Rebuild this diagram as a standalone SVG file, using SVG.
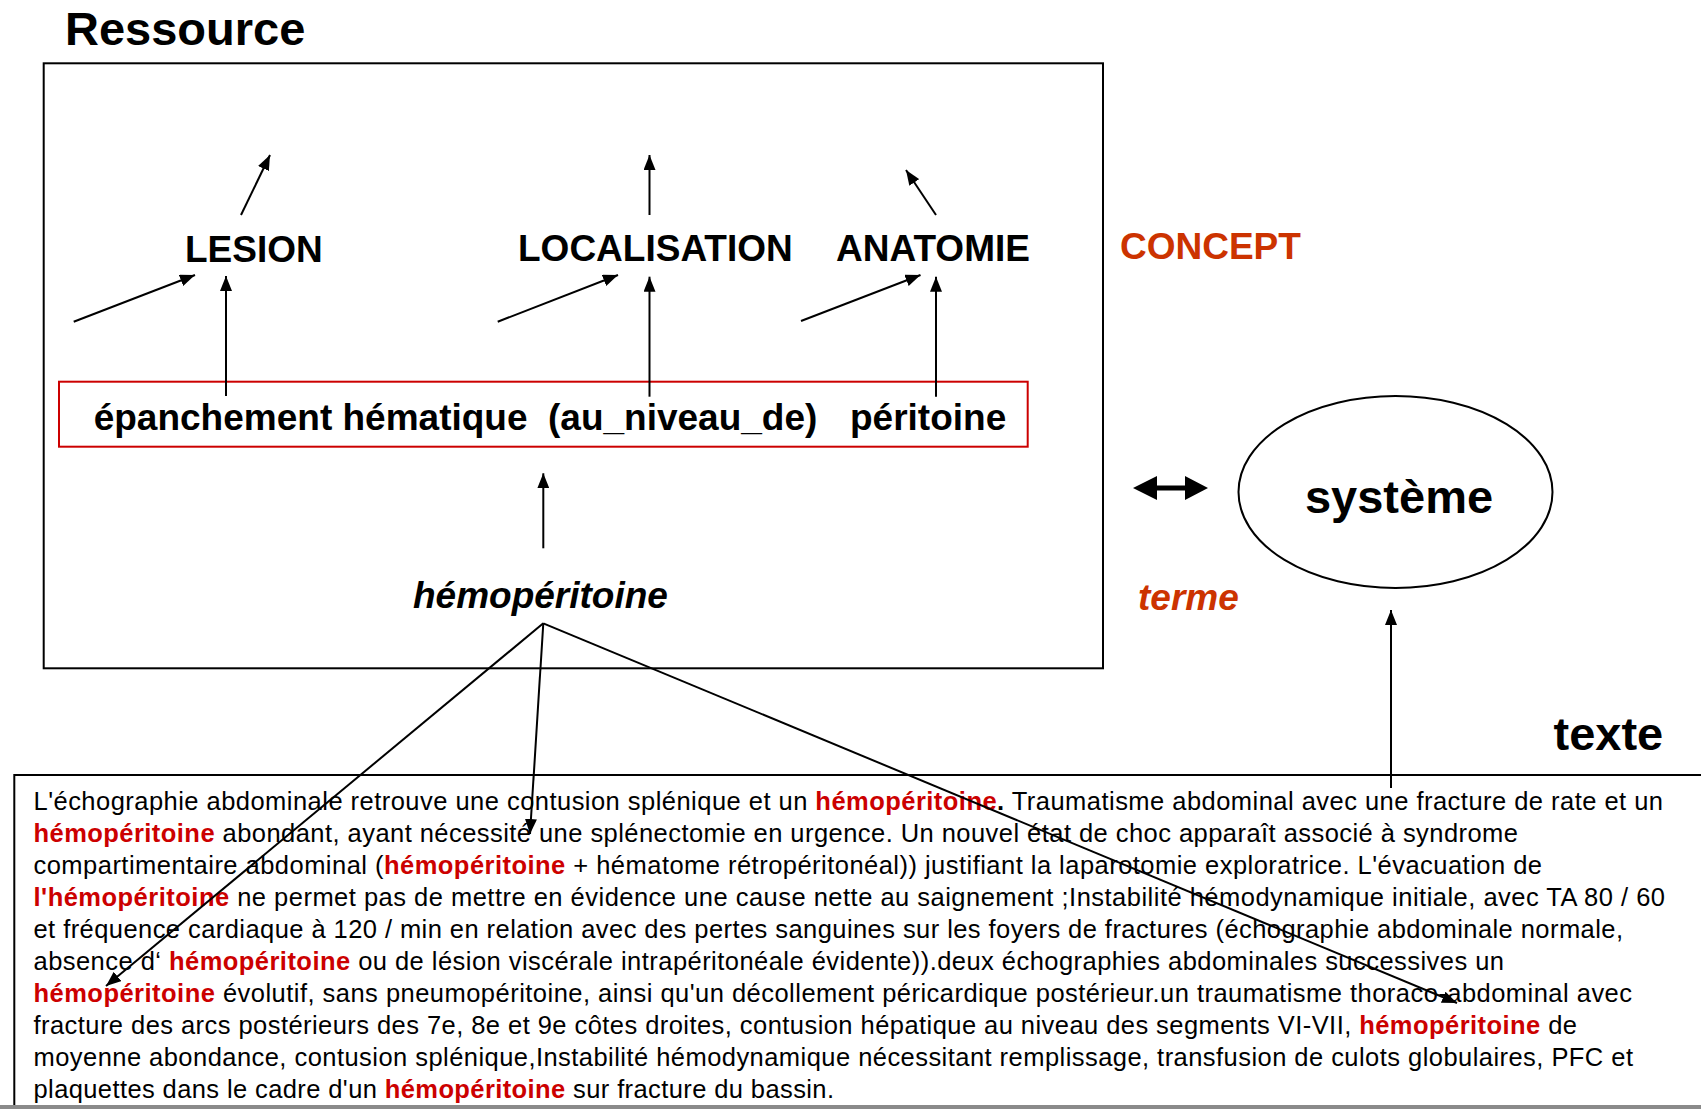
<svg xmlns="http://www.w3.org/2000/svg" width="1701" height="1109" viewBox="0 0 1701 1109">
  <style>
    .frame { fill: none; stroke: #000; stroke-width: 2; }
    .title { font-family: "Liberation Sans", Arial, sans-serif; font-weight: bold; font-size: 47px; fill: #000; }
    .concept { font-family: "Liberation Sans", Arial, sans-serif; font-weight: bold; font-size: 37px; fill: #000; }
    .accent { fill: #cc3300; }
    .ital { font-style: italic; }
    .body { font-family: "Liberation Sans", Arial, sans-serif; font-size: 25.5px; fill: #000; }
    .hl { font-weight: bold; fill: #cc0000; }
    .link { fill: none; stroke: #000; stroke-width: 2; marker-end: url(#head); }
    .fan { fill: none; stroke: #000; stroke-width: 1.6; }
  </style>
  <defs>
    <marker id="head" markerUnits="userSpaceOnUse" markerWidth="16" markerHeight="12" refX="15" refY="6" orient="auto">
      <path d="M0,0 L15,6 L0,12 Z" fill="#000"/>
    </marker>
  </defs>

  <rect width="1701" height="1109" fill="#fff"/>

  <!-- resource frame -->
  <g id="ressource">
    <text class="title" x="65" y="45">Ressource</text>
    <rect class="frame" x="43.7" y="63.3" width="1059.3" height="605"/>
  </g>

  <!-- concepts -->
  <g id="lesion"><text class="concept" x="185" y="261.5">LESION</text></g>
  <g id="localisation"><text class="concept" x="518" y="261">LOCALISATION</text></g>
  <g id="anatomie"><text class="concept" x="836" y="261">ANATOMIE</text></g>
  <g id="concept-label"><text class="concept accent" x="1120" y="259">CONCEPT</text></g>

  <!-- term decomposition -->
  <g id="decomposition">
    <rect x="59" y="381.7" width="968.7" height="65" fill="none" stroke="#cc0000" stroke-width="2"/>
    <text class="concept" y="430"><tspan x="93.7">épanchement hématique</tspan><tspan x="548">(au_niveau_de)</tspan><tspan x="850">péritoine</tspan></text>
  </g>

  <g id="hemoperitoine"><text class="concept ital" x="413" y="608">hémopéritoine</text></g>
  <g id="terme-label"><text class="concept ital accent" x="1138" y="610">terme</text></g>

  <!-- system -->
  <g id="systeme">
    <ellipse cx="1395.5" cy="492" rx="157" ry="96" fill="none" stroke="#000" stroke-width="2"/>
    <text class="title" x="1399" y="513" text-anchor="middle">système</text>
  </g>

  <!-- corpus text -->
  <g id="texte">
    <text class="title" x="1553.5" y="750">texte</text>
    <path class="frame" d="M14.3,1109 V775 H1701"/>
    <rect x="0" y="1105" width="1701" height="4" fill="#8a8a8a"/>
    <text class="body" x="33.5" y="810" textLength="1629.5">L'échographie abdominale retrouve une contusion splénique et un <tspan class="hl">hémopéritoine</tspan><tspan font-weight="bold">.</tspan> Traumatisme abdominal avec une fracture de rate et un</text>
    <text class="body" x="33.5" y="842" textLength="1484.5"><tspan class="hl">hémopéritoine</tspan> abondant, ayant nécessité une splénectomie en urgence. Un nouvel état de choc apparaît associé à syndrome</text>
    <text class="body" x="33.5" y="874" textLength="1508.5">compartimentaire abdominal (<tspan class="hl">hémopéritoine</tspan> + hématome rétropéritonéal)) justifiant la laparotomie exploratrice. L'évacuation de</text>
    <text class="body" x="33.5" y="906" textLength="1631.5"><tspan class="hl">l'hémopéritoine</tspan> ne permet pas de mettre en évidence une cause nette au saignement ;Instabilité hémodynamique initiale, avec TA 80 / 60</text>
    <text class="body" x="33.5" y="938" textLength="1589.5">et fréquence cardiaque à 120 / min en relation avec des pertes sanguines sur les foyers de fractures (échographie abdominale normale,</text>
    <text class="body" x="33.5" y="970" textLength="1470.5">absence d‘ <tspan class="hl">hémopéritoine</tspan> ou de lésion viscérale intrapéritonéale évidente)).deux échographies abdominales successives un</text>
    <text class="body" x="33.5" y="1002" textLength="1598.5"><tspan class="hl">hémopéritoine</tspan> évolutif, sans pneumopéritoine, ainsi qu'un décollement péricardique postérieur.un traumatisme thoraco-abdominal avec</text>
    <text class="body" x="33.5" y="1034" textLength="1543.5">fracture des arcs postérieurs des 7e, 8e et 9e côtes droites, contusion hépatique au niveau des segments VI-VII, <tspan class="hl">hémopéritoine</tspan> de</text>
    <text class="body" x="33.5" y="1066" textLength="1599.5">moyenne abondance, contusion splénique,Instabilité hémodynamique nécessitant remplissage, transfusion de culots globulaires, PFC et</text>
    <text class="body" x="33.5" y="1098" textLength="800.5">plaquettes dans le cadre d'un <tspan class="hl">hémopéritoine</tspan> sur fracture du bassin.</text>
  </g>

  <!-- connectors -->
  <g id="connectors">
    <line class="link" x1="241" y1="215" x2="270" y2="155"/>
    <line class="link" x1="73.7" y1="321.7" x2="195" y2="275"/>
    <line class="link" x1="226" y1="396" x2="226" y2="276"/>
    <line class="link" x1="649.5" y1="215" x2="649.5" y2="155"/>
    <line class="link" x1="497.7" y1="321.7" x2="618" y2="275"/>
    <line class="link" x1="649.5" y1="396.7" x2="649.5" y2="276.7"/>
    <line class="link" x1="936" y1="215" x2="906" y2="170"/>
    <line class="link" x1="801" y1="321" x2="920.5" y2="275"/>
    <line class="link" x1="936" y1="396.7" x2="936" y2="276.7"/>
    <line class="link" x1="543.3" y1="548.3" x2="543.3" y2="473.3"/>
    <line class="link" x1="1391" y1="788" x2="1391" y2="610"/>
    <line class="link" x1="543.3" y1="623.3" x2="106" y2="986"/>
    <line class="link" x1="543.3" y1="623.3" x2="530" y2="834"/>
    <line class="link" x1="543.3" y1="623.3" x2="1457" y2="1003"/>
    <path d="M1133,488 L1157,476 L1157,485.5 L1185,485.5 L1185,476 L1208,488 L1185,500 L1185,490.5 L1157,490.5 L1157,500 Z" fill="#000"/>
  </g>
</svg>
